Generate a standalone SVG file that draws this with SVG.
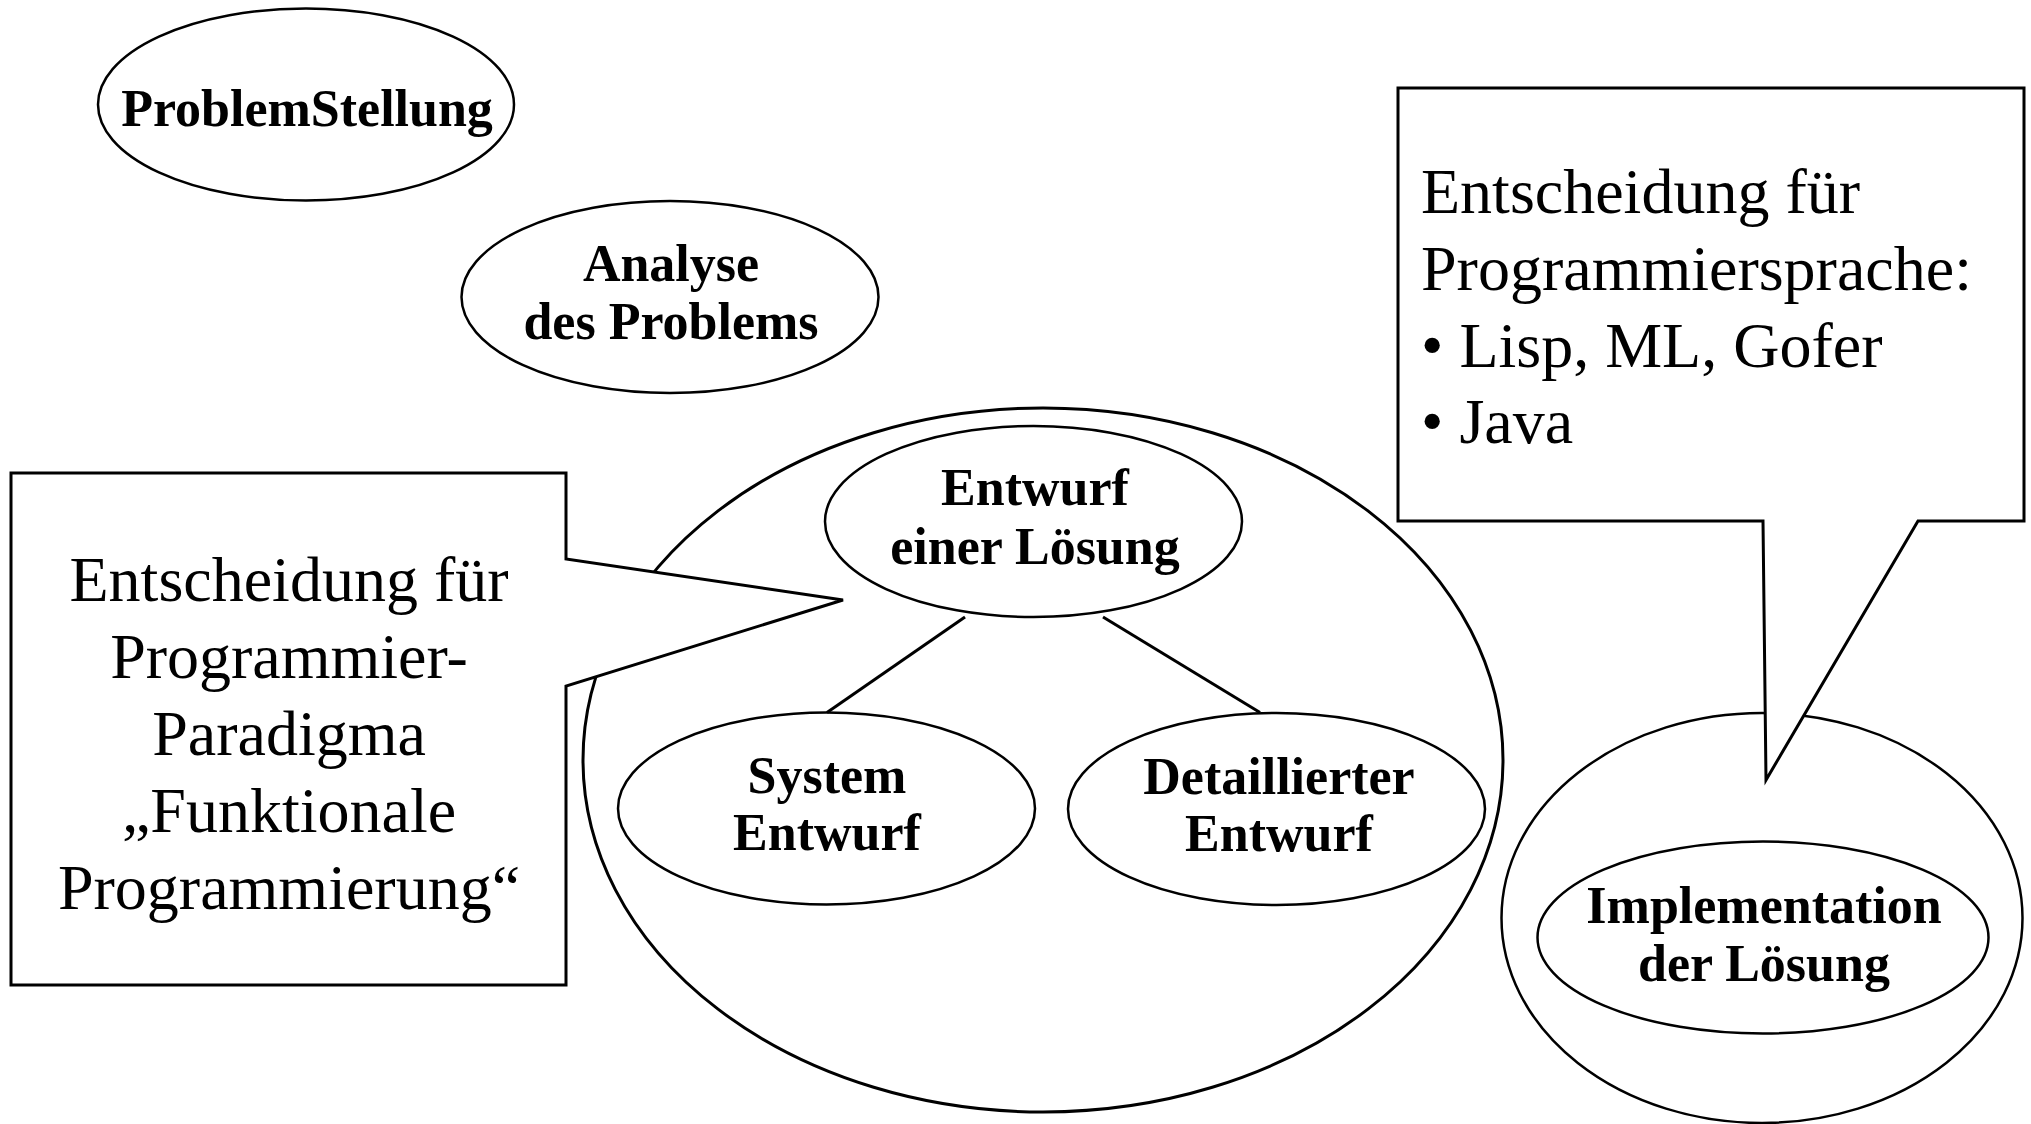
<svg xmlns="http://www.w3.org/2000/svg" width="2031" height="1124" viewBox="0 0 2031 1124">
<style>
.bg{fill:#ffffff}
.node{fill:#ffffff;stroke:#000000;stroke-width:2.5}
.outer{fill:none;stroke:#000000;stroke-width:3}
.callout{fill:#ffffff;stroke:#000000;stroke-width:3;stroke-linejoin:miter}
.conn{stroke:#000000;stroke-width:3;fill:none}
.lbl{font-family:"Liberation Serif","Times New Roman",serif;font-weight:bold;font-size:52px;fill:#000000;text-anchor:middle}
.note{font-family:"Liberation Serif","Times New Roman",serif;font-size:64px;fill:#000000}
</style>
<rect class="bg" x="0" y="0" width="2031" height="1124"/>

<g id="entwurf-bereich">
  <ellipse class="outer" cx="1043" cy="760" rx="460" ry="352"/>
</g>

<g id="problemstellung">
  <ellipse class="node" cx="306" cy="104.5" rx="208" ry="96"/>
  <text class="lbl" x="307" y="126">ProblemStellung</text>
</g>

<g id="analyse">
  <ellipse class="node" cx="670" cy="297" rx="208.5" ry="96"/>
  <text class="lbl" x="671" y="281">Analyse</text>
  <text class="lbl" x="671" y="339">des Problems</text>
</g>

<g id="entwurf-loesung">
  <ellipse class="node" cx="1033.5" cy="521.5" rx="208.5" ry="95.5"/>
  <text class="lbl" x="1035" y="505">Entwurf</text>
  <text class="lbl" x="1035" y="564">einer Lösung</text>
</g>

<g id="system-entwurf">
  <ellipse class="node" cx="826.5" cy="808.5" rx="208.5" ry="96"/>
  <text class="lbl" x="827" y="793">System</text>
  <text class="lbl" x="827" y="850">Entwurf</text>
</g>

<g id="detaillierter-entwurf">
  <ellipse class="node" cx="1276.5" cy="809" rx="208.5" ry="96"/>
  <text class="lbl" x="1279" y="794">Detaillierter</text>
  <text class="lbl" x="1279" y="851">Entwurf</text>
</g>

<g id="connectors">
  <line class="conn" x1="965" y1="617" x2="827" y2="712.5"/>
  <line class="conn" x1="1103" y1="617" x2="1260" y2="712.5"/>
</g>

<g id="paradigma-hinweis">
  <path class="callout" d="M11,473 H566 V559 L843,600 L566,686 V985 H11 Z"/>
  <text class="note" text-anchor="middle" x="289" y="601">Entscheidung für</text>
  <text class="note" text-anchor="middle" x="289" y="678">Programmier-</text>
  <text class="note" text-anchor="middle" x="289" y="755">Paradigma</text>
  <text class="note" text-anchor="middle" x="289" y="832">„Funktionale</text>
  <text class="note" text-anchor="middle" x="289" y="909">Programmierung“</text>
</g>

<g id="implementation-bereich">
  <ellipse class="outer" cx="1762" cy="918" rx="260.5" ry="205" style="stroke-width:2.5"/>
</g>

<g id="sprache-hinweis">
  <path class="callout" d="M1398,88 H2024 V521 H1918 L1766,780 L1763,521 H1398 Z"/>
  <text class="note" x="1421" y="213">Entscheidung für</text>
  <text class="note" x="1421" y="290">Programmiersprache:</text>
  <text class="note" x="1421" y="367">• Lisp, ML, Gofer</text>
  <text class="note" x="1421" y="443">• Java</text>
</g>

<g id="implementation">
  <ellipse class="node" cx="1763" cy="937.5" rx="225.5" ry="96"/>
  <text class="lbl" x="1764" y="923">Implementation</text>
  <text class="lbl" x="1764" y="981">der Lösung</text>
</g>
</svg>
